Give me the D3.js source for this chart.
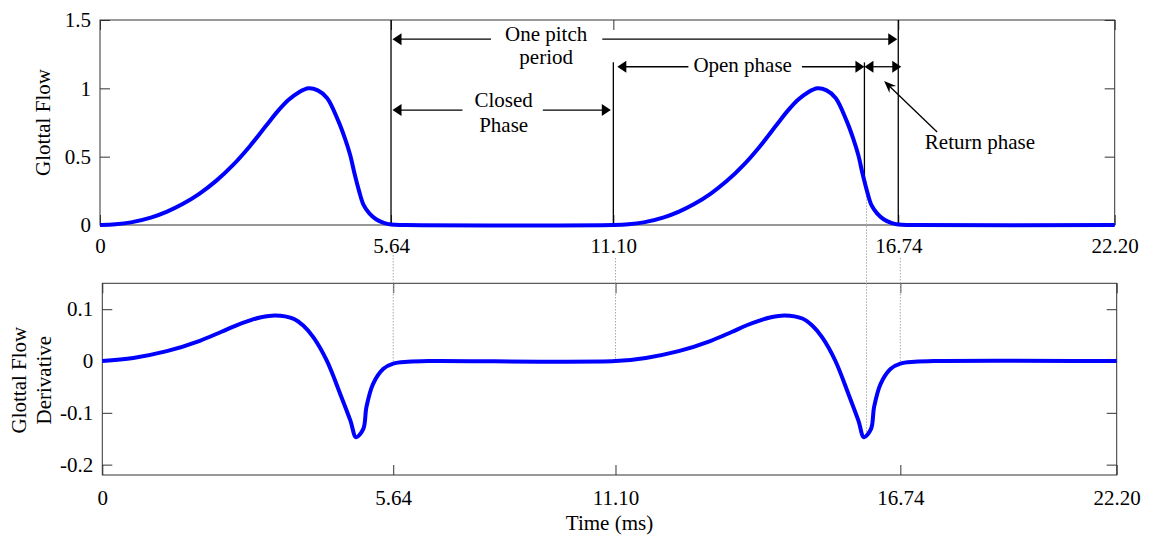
<!DOCTYPE html>
<html>
<head>
<meta charset="utf-8">
<script src="https://cdn.jsdelivr.net/npm/d3@7"></script>
<style>
  body { margin: 0; background: #fff; }
  svg { display: block; font-family: "Liberation Serif", "Times New Roman", serif; }
</style>
</head>
<body>
<svg id="chart" width="1149" height="536"></svg>
<script>
// ---- data (time in ms) ----
const xTicks = [0, 5.64, 11.10, 16.74, 22.20];
const xTickLabels = ["0", "5.64", "11.10", "16.74", "22.20"];
const flowTicks = [0, 0.5, 1, 1.5];
const flowTickLabels = ["0", "0.5", "1", "1.5"];
const derivTicks = [-0.2, -0.1, 0, 0.1];
const derivTickLabels = ["-0.2", "-0.1", "0", "0.1"];

const flowTime = [0, 0.30, 0.60, 1.00, 1.30, 1.60, 1.93, 2.25, 2.58, 2.90, 3.23, 3.45, 3.65, 3.85, 4.04, 4.22, 4.40, 4.62, 4.75, 4.85, 4.93, 5.02, 5.11, 5.22, 5.35, 5.50, 5.64, 6.00,
  11.10, 11.40, 11.70, 12.10, 12.40, 12.70, 13.03, 13.35, 13.68, 14.00, 14.33, 14.55, 14.75, 14.95, 15.14, 15.32, 15.50, 15.72, 15.85, 15.95, 16.03, 16.12, 16.21, 16.32, 16.45, 16.60, 16.74, 17.10,
  22.20];
const flowValue = [0, 0.005, 0.019, 0.056, 0.098, 0.153, 0.23, 0.323, 0.44, 0.575, 0.732, 0.835, 0.915, 0.97, 1.0, 0.985, 0.93, 0.76, 0.63, 0.51, 0.38, 0.25, 0.145, 0.085, 0.042, 0.015, 0.003, 0,
  0, 0.005, 0.019, 0.056, 0.098, 0.153, 0.23, 0.323, 0.44, 0.575, 0.732, 0.835, 0.915, 0.97, 1.0, 0.985, 0.93, 0.76, 0.63, 0.51, 0.38, 0.25, 0.145, 0.085, 0.042, 0.015, 0.003, 0,
  0];

const derivTime = [0, 0.60, 1.25, 1.89, 2.30, 2.60, 2.85, 3.06, 3.35, 3.70, 3.90, 4.09, 4.35, 4.61, 4.81, 4.92, 5.06, 5.12, 5.25, 5.45, 5.64, 6.00, 6.50,
  11.10, 11.70, 12.35, 12.99, 13.40, 13.70, 13.95, 14.16, 14.45, 14.80, 15.00, 15.19, 15.45, 15.71, 15.91, 16.02, 16.16, 16.22, 16.35, 16.55, 16.74, 17.10, 17.60,
  22.20];
const derivValue = [0, 0.006, 0.019, 0.039, 0.056, 0.069, 0.078, 0.084, 0.088, 0.082, 0.068, 0.046, 0.001, -0.063, -0.115, -0.147, -0.131, -0.089, -0.044, -0.015, -0.005, -0.0015, 0,
  0, 0.006, 0.019, 0.039, 0.056, 0.069, 0.078, 0.084, 0.088, 0.082, 0.068, 0.046, 0.001, -0.063, -0.115, -0.147, -0.131, -0.089, -0.044, -0.015, -0.005, -0.0015, 0,
  0];

// phase boundaries (ms)
const closeA = 5.64, openB = 11.10, returnB = 16.07, closeB = 16.74;

// ---- layout ----
const svg = d3.select("#chart");
const font = "21px";
const topP = {left: 100, right: 1114.7, top: 20, bottom: 225};
const botP = {left: 102.3, right: 1116.7, top: 283.3, bottom: 475};
// tick positions along the axis (the figure spaces its ticks unevenly)
const tickFrac = [0, 0.2868, 0.5059, 0.7867, 1];

function makeX(p) {
  return d3.scaleLinear().domain(xTicks)
    .range(tickFrac.map(f => p.left + f * (p.right - p.left)));
}
const xTop = makeX(topP), xBot = makeX(botP);
const yTop = d3.scaleLinear().domain([0, 1.5]).range([topP.bottom, topP.top]);
const yBot = d3.scaleLinear().domain([-0.22, 0.15]).range([botP.bottom, botP.top]);

function drawAxes(p, x, y, yT, yL, pad) {
  const g = svg.append("g");
  const fmt = (vals, labs) => d => labs[vals.indexOf(d)];
  g.append("g").attr("transform", `translate(0,${p.bottom})`)
    .call(d3.axisBottom(x).tickValues(xTicks).tickFormat(fmt(xTicks, xTickLabels))
      .tickSizeInner(-10).tickSizeOuter(0).tickPadding(pad));
  g.append("g").attr("transform", `translate(0,${p.top})`)
    .call(d3.axisTop(x).tickValues(xTicks).tickFormat("").tickSizeInner(-10).tickSizeOuter(0));
  g.append("g").attr("transform", `translate(${p.left},0)`)
    .call(d3.axisLeft(y).tickValues(yT).tickFormat(fmt(yT, yL))
      .tickSizeInner(-10).tickSizeOuter(0).tickPadding(9));
  g.append("g").attr("transform", `translate(${p.right},0)`)
    .call(d3.axisRight(y).tickValues(yT).tickFormat("").tickSizeInner(-10).tickSizeOuter(0));
  g.selectAll(".domain").remove();
  g.selectAll(".tick line").attr("stroke", "#333");
  g.selectAll("text").attr("font-family", "Liberation Serif").attr("font-size", font).attr("fill", "#000");
  g.selectAll("g").attr("font-size", null).attr("font-family", null);
  g.append("rect").attr("x", p.left).attr("y", p.top)
    .attr("width", p.right - p.left).attr("height", p.bottom - p.top)
    .attr("fill", "none").attr("stroke", "#333").attr("stroke-width", 1);
}
drawAxes(topP, xTop, yTop, flowTicks, flowTickLabels, 13);
drawAxes(botP, xBot, yBot, derivTicks, derivTickLabels, 15);

// ---- axis titles ----
function label(x, y, txt, rot) {
  svg.append("text").attr("transform", `translate(${x},${y})` + (rot ? " rotate(-90)" : ""))
    .attr("text-anchor", "middle").attr("font-size", font).text(txt);
}
label(50, (topP.top + topP.bottom) / 2, "Glottal Flow", true);
label(26, (botP.top + botP.bottom) / 2 + 1, "Glottal Flow", true);
label(51, (botP.top + botP.bottom) / 2 + 1, "Derivative", true);
label((botP.left + botP.right) / 2, 530, "Time (ms)", false);

// ---- annotation lines ----
const ann = svg.append("g").attr("stroke", "#000").attr("stroke-width", 1.3);
function vline(x, y1, y2) { ann.append("line").attr("x1", x).attr("x2", x).attr("y1", y1).attr("y2", y2); }
function hline(x1, x2, y) { ann.append("line").attr("x1", x1).attr("x2", x2).attr("y1", y).attr("y2", y); }

const dots = svg.append("g").attr("stroke", "#aaa").attr("stroke-width", 1).attr("stroke-dasharray", "1.5,1.5");
function dline(x, y1, y2) { dots.append("line").attr("x1", x).attr("x2", x).attr("y1", y1).attr("y2", y2); }
dline(xBot(closeA), yTop(0) + 24, yBot(0));
dline(xBot(openB), yTop(0) + 33, yBot(0));
dline(xBot(closeB), yTop(0) + 33, yBot(0));
dline(xBot(returnB), yTop(0.32), yBot(-0.14));

vline(xTop(closeA), yTop(1.5), yTop(0));
vline(xTop(closeB), yTop(1.5), yTop(0));
vline(xTop(openB), yTop(1.19), yTop(0));
vline(xTop(returnB), yTop(1.19), yTop(0.32));

// ---- blue curves ----
const flowData = flowTime.map((t, i) => [t, flowValue[i]]);
const derivData = derivTime.map((t, i) => [t, derivValue[i]]);
const smooth = d3.curveCatmullRom.alpha(0.5);
svg.append("path").datum(flowData)
  .attr("d", d3.line().x(d => xTop(d[0])).y(d => yTop(d[1])).curve(smooth))
  .attr("fill", "none").attr("stroke", "#0000ff").attr("stroke-width", 4).attr("stroke-linejoin", "round");
svg.append("path").datum(derivData)
  .attr("d", d3.line().x(d => xBot(d[0])).y(d => yBot(d[1])).curve(smooth))
  .attr("fill", "none").attr("stroke", "#0000ff").attr("stroke-width", 4).attr("stroke-linejoin", "round");

// ---- arrows with text ----
const heads = svg.append("g").attr("fill", "#000");
function head(x, y, dir) {
  const L = 9, w = 6;
  heads.append("path").attr("d", `M${x},${y}L${x - dir * L},${y - w}L${x - dir * L},${y + w}Z`);
}
function txt(x, y, s, anchor) {
  return svg.append("text").attr("x", x).attr("y", y).attr("text-anchor", anchor || "middle")
    .attr("font-size", font).text(s);
}

// one pitch period
{
  const y = yTop(1.36), cx = xTop(9.45);
  const t1 = txt(cx, y + 2, "One pitch");
  txt(cx, y + 25, "period");
  const w = t1.node().getComputedTextLength();
  const x1 = xTop(closeA) + 1.5, x2 = xTop(closeB) - 1;
  hline(x1 + 5, cx - w / 2 - 14, y);
  hline(cx + w / 2 + 15, x2 - 5, y);
  head(x1, y, -1); head(x2, y, 1);
}
// closed phase
{
  const y = yTop(0.841);
  const x1 = xTop(closeA) + 1.5, x2 = xTop(openB) - 2.5, cx = (x1 + x2) / 2 + 2;
  const t1 = txt(cx, y - 3, "Closed");
  txt(cx, y + 22, "Phase");
  const w = t1.node().getComputedTextLength();
  hline(x1 + 5, cx - w / 2 - 12, y);
  hline(cx + w / 2 + 10, x2 - 5, y);
  head(x1, y, -1); head(x2, y, 1);
}
// open phase + return phase
{
  const y = yTop(1.158);
  const x1 = xTop(openB) + 4, x2 = xTop(returnB), x3 = xTop(closeB) + 3, cx = xTop(13.66);
  const t = txt(cx, y + 5, "Open phase");
  const w = t.node().getComputedTextLength();
  hline(x1 + 5, cx - w / 2 - 5, y);
  hline(cx + w / 2 + 10, x2 - 5, y);
  head(x1, y, -1); head(x2, y, 1);
  hline(x2 + 5, x3 - 5, y);
  head(x2, y, -1); head(x3, y, 1);
}
// return phase label with pointer
{
  txt(xTop(17.41), yTop(0.556), "Return phase", "start");
  const sx = xTop(17.72), sy = yTop(0.68), tx = xTop(16.46), ty = yTop(1.053);
  const a = Math.atan2(sy - ty, sx - tx);
  ann.append("line").attr("x1", sx).attr("y1", sy)
    .attr("x2", tx + 6 * Math.cos(a)).attr("y2", ty + 6 * Math.sin(a));
  const L = 13, sp = 0.38, back = 8;
  const p1 = [tx + L * Math.cos(a - sp), ty + L * Math.sin(a - sp)];
  const p2 = [tx + L * Math.cos(a + sp), ty + L * Math.sin(a + sp)];
  const pb = [tx + back * Math.cos(a), ty + back * Math.sin(a)];
  heads.append("path").attr("d", `M${tx},${ty}L${p1}L${pb}L${p2}Z`);
}
</script>
</body>
</html>
